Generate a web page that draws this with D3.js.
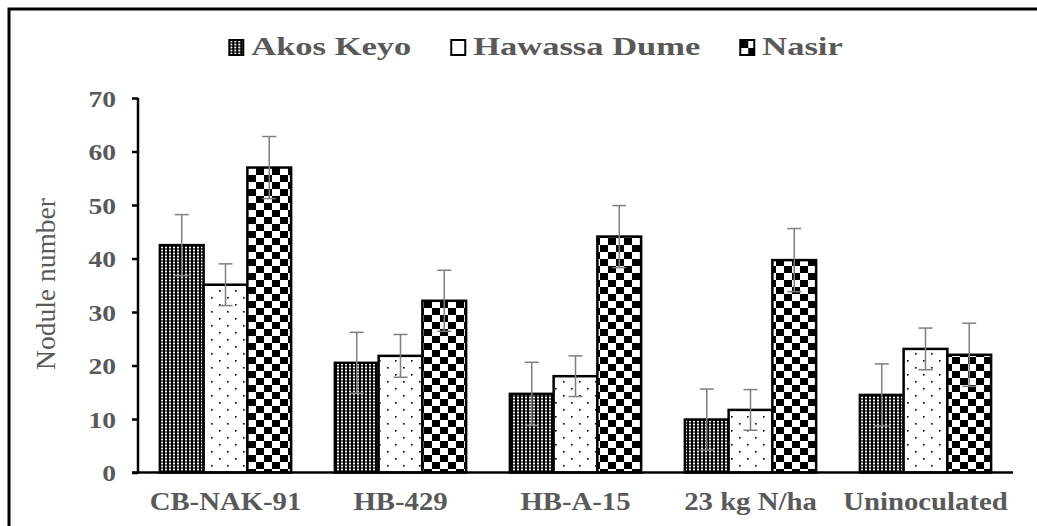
<!DOCTYPE html>
<html><head><meta charset="utf-8">
<script src="https://cdn.jsdelivr.net/npm/d3@7"></script>
<style>body{margin:0;background:#fff}svg{display:block}</style>
</head><body>
<svg id="c" width="1037" height="526"></svg>
<script>
const categories = ["CB-NAK-91", "HB-429", "HB-A-15", "23 kg N/ha", "Uninoculated"];
const seriesNames = ["Akos Keyo", "Hawassa Dume", "Nasir"];
const akosKeyo = [42.5, 20.5, 14.7, 9.9, 14.5];
const hawassaDume = [35.1, 21.8, 18.0, 11.7, 23.1];
const nasir = [57.0, 32.1, 44.1, 39.7, 22.0];
const akosErr = [5.7, 5.7, 5.9, 5.7, 5.8];
const hawassaErr = [3.9, 4.0, 3.8, 3.8, 3.9];
const nasirErr = [5.8, 5.7, 5.8, 5.9, 5.9];
const yTicks = [0, 10, 20, 30, 40, 50, 60, 70];

const seriesVals = [akosKeyo, hawassaDume, nasir];
const seriesErr = [akosErr, hawassaErr, nasirErr];
const patIds = ["pAkos", "pHaw", "pNas"];

const svg = d3.select("#c");
const textCol = "#595959";

// patterns
const defs = svg.append("defs");
const p1 = defs.append("pattern").attr("id", "pAkos").attr("patternUnits", "userSpaceOnUse").attr("width", 4).attr("height", 3);
p1.append("rect").attr("width", 4).attr("height", 3).attr("fill", "#000");
p1.append("rect").attr("x", 1).attr("y", 0.6).attr("width", 2).attr("height", 1.8).attr("fill", "#fff");
const p2 = defs.append("pattern").attr("id", "pHaw").attr("patternUnits", "userSpaceOnUse").attr("width", 16).attr("height", 14);
p2.append("rect").attr("width", 16).attr("height", 14).attr("fill", "#fff");
p2.append("rect").attr("x", 3).attr("y", 3).attr("width", 1.6).attr("height", 1.6).attr("fill", "#000");
p2.append("rect").attr("x", 11).attr("y", 10).attr("width", 1.6).attr("height", 1.6).attr("fill", "#000");
const p3 = defs.append("pattern").attr("id", "pNas").attr("patternUnits", "userSpaceOnUse").attr("width", 16).attr("height", 14);
p3.append("rect").attr("width", 16).attr("height", 14).attr("fill", "#fff");
p3.append("rect").attr("width", 8).attr("height", 7).attr("fill", "#000");
p3.append("rect").attr("x", 8).attr("y", 7).attr("width", 8).attr("height", 7).attr("fill", "#000");

// outer border
svg.append("rect").attr("x", 9).attr("y", 9).attr("width", 1040).attr("height", 530)
  .attr("fill", "none").attr("stroke", "#000").attr("stroke-width", 3);

const x0 = d3.scaleBand().domain(categories).range([138, 1013]).paddingInner(0.25).paddingOuter(0.125);
const x1 = d3.scaleBand().domain(seriesNames).range([0, x0.bandwidth()]);
const y = d3.scaleLinear().domain([0, 70]).range([472.5, 98]);

// bars
const g = svg.append("g");
categories.forEach((c, i) => {
  seriesNames.forEach((s, j) => {
    const v = seriesVals[j][i];
    g.append("rect")
      .attr("x", x0(c) + x1(s))
      .attr("y", y(v))
      .attr("width", x1.bandwidth())
      .attr("height", y(0) - y(v))
      .attr("fill", `url(#${patIds[j]})`)
      .attr("stroke", "#000").attr("stroke-width", 2.5);
  });
});
// error bars
categories.forEach((c, i) => {
  seriesNames.forEach((s, j) => {
    const v = seriesVals[j][i], e = seriesErr[j][i];
    const cx = x0(c) + x1(s) + x1.bandwidth() / 2;
    const eg = g.append("g").attr("stroke", "#7f7f7f").attr("stroke-width", 1.5);
    eg.append("line").attr("x1", cx).attr("x2", cx).attr("y1", y(v + e)).attr("y2", y(v - e));
    eg.append("line").attr("x1", cx - 7).attr("x2", cx + 7).attr("y1", y(v + e)).attr("y2", y(v + e));
    eg.append("line").attr("x1", cx - 7).attr("x2", cx + 7).attr("y1", y(v - e)).attr("y2", y(v - e));
  });
});

// y axis
const yAxis = svg.append("g").attr("transform", "translate(138,0)")
  .call(d3.axisLeft(y).tickValues(yTicks).tickSize(6).tickFormat(d3.format("d")));
yAxis.select(".domain").attr("stroke", "#000").attr("stroke-width", 2.5).attr("d", `M0,${y(70)}H0V${y(0)}`);
yAxis.selectAll(".tick line").attr("stroke", "#000").attr("stroke-width", 2.5);
yAxis.selectAll(".tick text").remove();
yAxis.selectAll(".tick").append("g").attr("transform", `translate(-22,0) scale(1.2,1)`)
  .append("text").attr("text-anchor", "end").attr("dy", "0.35em")
  .attr("font-family", "Liberation Serif").attr("font-weight", "bold").attr("font-size", 23)
  .attr("fill", textCol).text(d => d);

// x axis
const xAxis = svg.append("g").attr("transform", `translate(0,${y(0)})`)
  .call(d3.axisBottom(x0).tickSize(0));
xAxis.select(".domain").attr("stroke", "#000").attr("stroke-width", 2.5).attr("d", "M132,0H1013");
xAxis.selectAll(".tick text").remove();
xAxis.selectAll(".tick").append("g").attr("transform", `translate(0,37) scale(1.15,1)`)
  .append("text").attr("text-anchor", "middle")
  .attr("font-family", "Liberation Serif").attr("font-weight", "bold").attr("font-size", 25)
  .attr("fill", textCol).text(d => d);

// y title
svg.append("text").attr("transform", "translate(55,284) rotate(-90)")
  .attr("text-anchor", "middle").attr("font-family", "Liberation Serif").attr("font-size", 27.5)
  .attr("fill", textCol).text("Nodule number");

// legend
const leg = svg.append("g");
let lx = 0;
const lsx = 1.38, gap = 40;
seriesNames.forEach((s, j) => {
  const it = leg.append("g");
  it.append("rect").attr("x", 0).attr("y", -15).attr("width", 14).attr("height", 15)
    .attr("fill", j === 1 ? "#fff" : `url(#${patIds[j]})`).attr("stroke", "#000").attr("stroke-width", 2);
  const tg = it.append("g").attr("transform", `translate(22,0) scale(${lsx},1)`);
  const t = tg.append("text").attr("font-family", "Liberation Serif").attr("font-weight", "bold")
    .attr("font-size", 25).attr("fill", textCol).text(s);
  const w = 22 + t.node().getComputedTextLength() * lsx;
  it.attr("transform", `translate(${lx},0)`);
  lx += w + gap;
});
const totalW = lx - gap;
leg.attr("transform", `translate(${536 - totalW / 2},55)`);
</script>
</body></html>
